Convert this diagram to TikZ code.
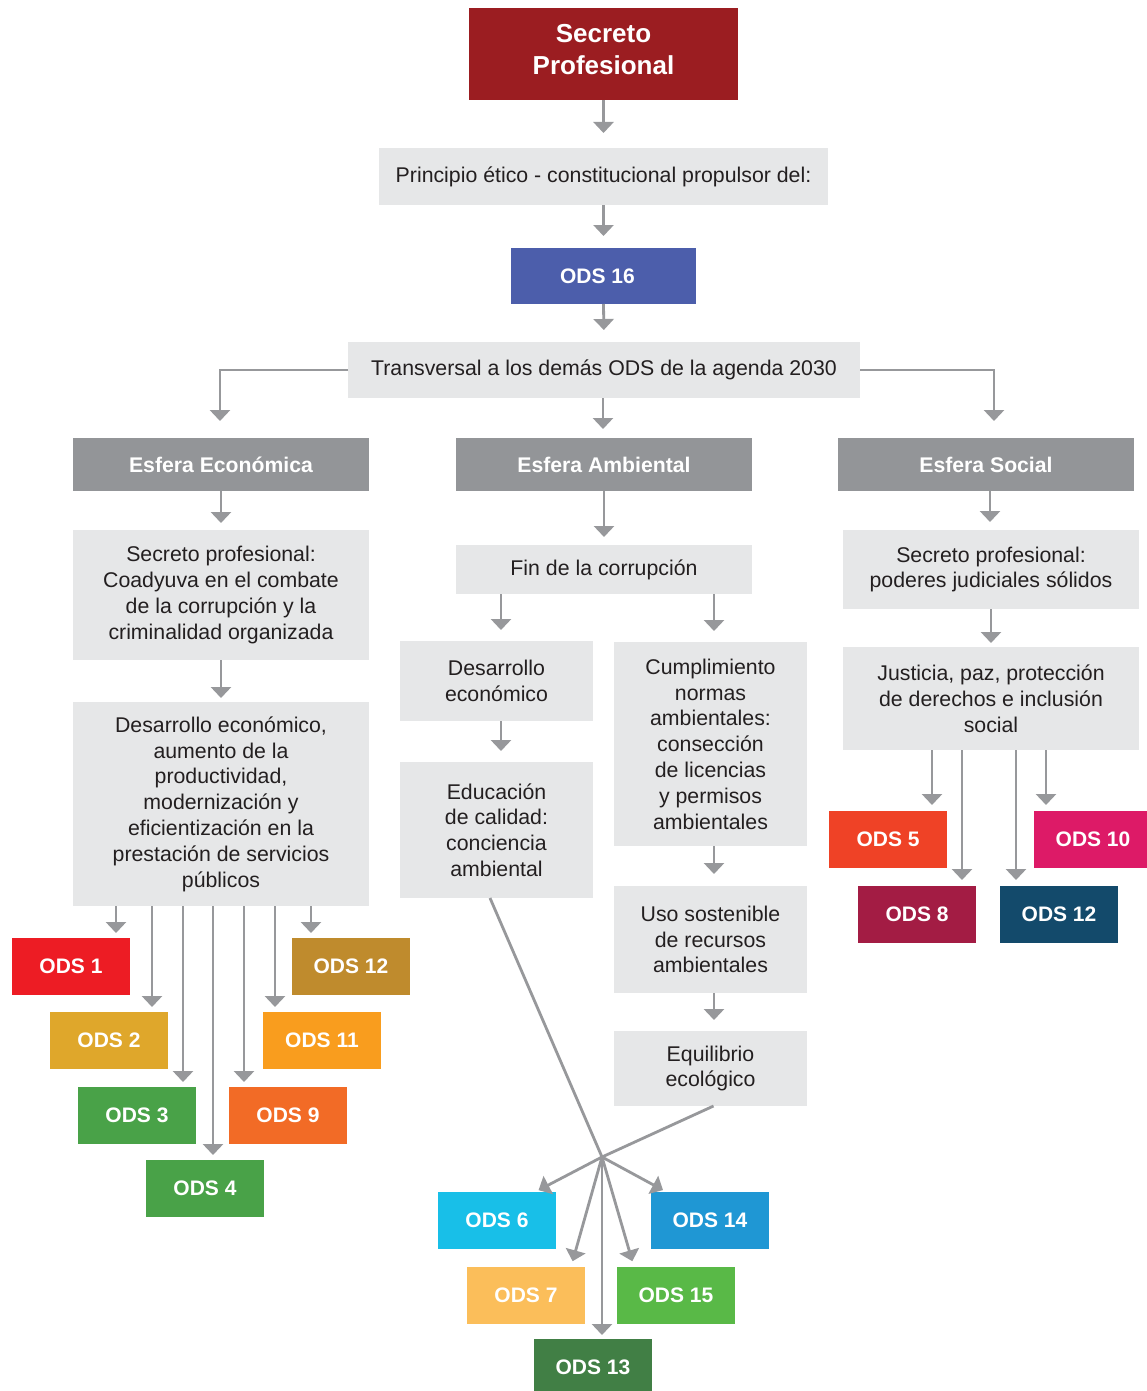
\documentclass[tikz,border=0pt]{standalone}
\usepackage{fontspec}
\setmainfont{Liberation Sans}
\usetikzlibrary{arrows.meta}
\definecolor{cRed}{HTML}{9B1D21}
\definecolor{cBox}{HTML}{E6E7E8}
\definecolor{cGray}{HTML}{939598}
\definecolor{cArr}{HTML}{97989B}
\definecolor{cBlue}{HTML}{4C5EAB}
\definecolor{cTxt}{HTML}{231F20}
\definecolor{s1}{HTML}{ED1C24}
\definecolor{s2}{HTML}{DFA72B}
\definecolor{s3}{HTML}{49A248}
\definecolor{s4}{HTML}{49A248}
\definecolor{s5}{HTML}{EF4226}
\definecolor{s6}{HTML}{18BFE8}
\definecolor{s7}{HTML}{FBBE5A}
\definecolor{s8}{HTML}{A31C44}
\definecolor{s9}{HTML}{F26B26}
\definecolor{s10}{HTML}{DD1A67}
\definecolor{s11}{HTML}{F99D1E}
\definecolor{s12}{HTML}{BF8B2D}
\definecolor{s12b}{HTML}{134A6B}
\definecolor{s13}{HTML}{417F45}
\definecolor{s14}{HTML}{1F97D4}
\definecolor{s15}{HTML}{59B947}
\tikzset{
  base/.style={inner sep=0pt, outer sep=0pt, align=center},
  gbox/.style={base, fill=cBox, text=cTxt, font=\fontsize{21.3}{25.8}\selectfont},
  hbox/.style={base, fill=cGray, text=white, font=\bfseries\fontsize{21.2}{25}\selectfont},
  ods/.style={base, fill=#1, text=white, minimum width=118pt, minimum height=57pt, font=\bfseries\fontsize{21}{25}\selectfont},
  arr/.style={draw=cArr, line width=2.8pt, -{Triangle[width=20pt,length=11pt]}},
  ln/.style={draw=cArr, line width=2.8pt}
}
\begin{document}
\begin{tikzpicture}[x=1pt,y=-1pt]
\useasboundingbox (0,0) rectangle (1146,1391);
\fill[white] (0,0) rectangle (1146,1391);
% top chain
\node[base, fill=cRed, minimum width=269pt, minimum height=92pt] (sp) at (603.5,54) {};
\node[base, text=white, font=\bfseries\fontsize{26}{32}\selectfont] (spt) at ([yshift=4pt]sp.center) {Secreto\\Profesional};
\node[gbox, minimum width=449pt, minimum height=57pt] (pr) at (603.5,176.5) {Principio ético - constitucional propulsor del:};
\node[base, fill=cBlue, minimum width=185pt, minimum height=56pt] (o16) at (603.5,276) {};
\node[base, text=white, font=\bfseries\fontsize{21}{25}\selectfont] (o16t) at ([xshift=-6pt]o16.center) {ODS 16};
\node[gbox, minimum width=512pt, minimum height=56pt] (tr) at (604,370) {Transversal a los demás ODS de la agenda 2030};
% esferas
\node[hbox, minimum width=296pt, minimum height=53pt] (ee) at (221,464.5) {Esfera Económica};
\node[hbox, minimum width=296pt, minimum height=53pt] (ea) at (604,464.5) {Esfera Ambiental};
\node[hbox, minimum width=296pt, minimum height=53pt] (es) at (986,464.5) {Esfera Social};
% left column
\node[gbox, minimum width=296pt, minimum height=130pt] (sp1) at (221,595) {Secreto profesional:\\Coadyuva en el combate\\de la corrupción y la\\criminalidad organizada};
\node[gbox, minimum width=296pt, minimum height=204pt] (des) at (221,804) {Desarrollo económico,\\aumento de la\\productividad,\\modernización y\\eficientización en la\\prestación de servicios\\públicos};
% middle column
\node[gbox, minimum width=296pt, minimum height=49pt] (fin) at (604,569.5) {Fin de la corrupción};
\node[gbox, minimum width=193pt, minimum height=80pt] (de) at (496.5,681) {Desarrollo\\económico};
\node[gbox, minimum width=193pt, minimum height=136pt] (edu) at (496.5,830) {Educación\\de calidad:\\conciencia\\ambiental};
\node[gbox, minimum width=193pt, minimum height=204pt] (cump) at (710.5,744) {Cumplimiento\\normas\\ambientales:\\consección\\de licencias\\y permisos\\ambientales};
\node[gbox, minimum width=193pt, minimum height=107pt] (uso) at (710.5,939.5) {Uso sostenible\\de recursos\\ambientales};
\node[gbox, minimum width=193pt, minimum height=75pt] (eq) at (710.5,1068.5) {Equilibrio\\ecológico};
% right column
\node[gbox, minimum width=296pt, minimum height=79pt] (sp2) at (991,569.5) {Secreto profesional:\\poderes judiciales sólidos};
\node[gbox, minimum width=296pt, minimum height=103pt] (jus) at (991,698.5) {Justicia, paz, protección\\de derechos e inclusión\\social};
% ODS boxes
\node[ods=s1] (o1) at (71,966.5) {ODS 1};
\node[ods=s2] (o2) at (109,1040.5) {ODS 2};
\node[ods=s3] (o3) at (137,1115.5) {ODS 3};
\node[ods=s4] (o4) at (205,1188.5) {ODS 4};
\node[ods=s12] (o12a) at (351,966.5) {ODS 12};
\node[ods=s11] (o11) at (322,1040.5) {ODS 11};
\node[ods=s9] (o9) at (288,1115.5) {ODS 9};
\node[ods=s5] (o5) at (888,839.5) {ODS 5};
\node[ods=s10] (o10) at (1093,839.5) {ODS 10};
\node[ods=s8] (o8) at (917,914.5) {ODS 8};
\node[ods=s12b] (o12b) at (1059,914.5) {ODS 12};
\node[ods=s6] (o6) at (497,1220.5) {ODS 6};
\node[ods=s14] (o14) at (710,1220.5) {ODS 14};
\node[ods=s7] (o7) at (526,1295.5) {ODS 7};
\node[ods=s15] (o15) at (676,1295.5) {ODS 15};
\node[ods=s13] (o13) at (593,1367.5) {ODS 13};
\coordinate (hub) at (602,1157);
% top connectors
\draw[arr, shorten >=15pt] (sp.south) -- (pr.north);
\draw[arr, shorten >=12pt] (pr.south) -- (o16.north);
\draw[arr, shorten >=12pt] (o16.south) -- (tr.north);
\draw[arr, shorten >=9pt] ([xshift=-1pt]tr.south) -- ([xshift=-1pt]tr.south |- ea.north);
\draw[arr, shorten >=17pt] (tr.west) -| ([xshift=-1pt]ee.north);
\draw[arr, shorten >=17pt] (tr.east) -| ([xshift=8pt]es.north);
% left connectors
\draw[arr, shorten >=7pt] (ee.south) -- (sp1.north);
\draw[arr, shorten >=4pt] (sp1.south) -- (des.north);
\foreach \dx/\t in {-105/o1,-69/o2,-38/o3,-8/o4,23/o9,54/o11,90/o12a}{
  \draw[arr, shorten >=5pt] ([xshift=\dx pt]des.south) -- ([xshift=\dx pt]des.south |- \t.north);
}
% middle connectors
\draw[arr, shorten >=8pt] (ea.south) -- (fin.north);
\draw[arr, shorten >=11pt] ([xshift=-103pt]fin.south) -- ([xshift=-103pt]fin.south |- de.north);
\draw[arr, shorten >=11pt] ([xshift=110pt]fin.south) -- ([xshift=110pt]fin.south |- cump.north);
\draw[arr, shorten >=11pt] ([xshift=4.5pt]de.south) -- ([xshift=4.5pt]edu.north);
\draw[arr, shorten >=12pt] ([xshift=3.5pt]cump.south) -- ([xshift=3.5pt]uso.north);
\draw[arr, shorten >=11pt] ([xshift=3.5pt]uso.south) -- ([xshift=3.5pt]eq.north);
\draw[ln] ([xshift=-6.5pt]edu.south) -- (hub);
\draw[ln] ([xshift=3pt]eq.south) -- (hub);
\draw[arr, shorten >=4pt] (hub) -- ([xshift=38pt]o6.north);
\draw[arr, shorten >=6pt] (hub) -- ([xshift=45pt]o7.north);
\draw[arr, shorten >=4pt] (hub) -- ([xshift=9pt]o13.north);
\draw[arr, shorten >=6pt] (hub) -- ([xshift=-42pt]o15.north);
\draw[arr, shorten >=4pt] (hub) -- ([xshift=-43.5pt]o14.north);
% right connectors
\draw[arr, shorten >=8pt] ([xshift=4pt]es.south) -- ([xshift=4pt]es.south |- sp2.north);
\draw[arr, shorten >=4pt] (sp2.south) -- (jus.north);
\foreach \dx/\t in {-59/o5,-29/o8,25/o12b,55/o10}{
  \draw[arr, shorten >=6pt] ([xshift=\dx pt]jus.south) -- ([xshift=\dx pt]jus.south |- \t.north);
}
\end{tikzpicture}
\end{document}
